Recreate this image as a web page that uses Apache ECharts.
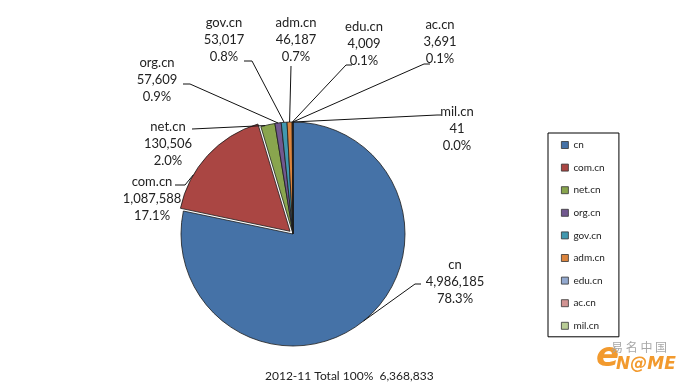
<!DOCTYPE html>
<html>
<head>
<meta charset="utf-8">
<script src="https://cdn.jsdelivr.net/npm/echarts@6/dist/echarts.min.js"></script>
<style>html,body{margin:0;padding:0;background:#fff;}#c{width:684px;height:390px;}</style>
</head>
<body>
<div id="c"></div>
<script>
const categories = ['cn', 'com.cn', 'net.cn', 'org.cn', 'gov.cn', 'adm.cn', 'edu.cn', 'ac.cn', 'mil.cn'];
const values = [4986185, 1087588, 130506, 57609, 53017, 46187, 4009, 3691, 41];
const colors = ['#4572A7', '#AA4643', '#89A54E', '#71588F', '#4198AF', '#DB843D', '#93A9CF', '#D19392', '#B9CD96'];
const period = '2012-11';
const exploded = 'com.cn';

// label placement (text block centre, leader-line anchor within slice, points near the text)
const labelPlace = {
  'cn':     { x: 455, y: 282, at: 0.5,  pts: [[415, 284], [421, 284]] },
  'com.cn': { x: 152, y: 199, at: 0.3,  pts: [[185, 185], [175, 185]] },
  'net.cn': { x: 168, y: 144, at: 0.3,  pts: [[192, 129]] },
  'org.cn': { x: 157, y: 80,  at: 0.5,  pts: [[190, 84], [183, 84]] },
  'gov.cn': { x: 224, y: 40,  at: 0.5,  pts: [[252, 61], [244, 61]] },
  'adm.cn': { x: 296, y: 40,  at: 0.5,  pts: [[291, 66]] },
  'edu.cn': { x: 364, y: 44,  at: 0.5,  pts: [[346, 65], [352, 65]] },
  'ac.cn':  { x: 440, y: 42,  at: 0.5,  pts: [[424, 64], [430, 64]] },
  'mil.cn': { x: 457, y: 129, at: 0.5,  pts: [[437, 115], [441, 115]] }
};

const total = values.reduce((a, b) => a + b, 0);
const fmt = v => v.toString().replace(/\B(?=(\d{3})+(?!\d))/g, ',');

const CX = 293, CY = 234, R = 112, OFFSET = 4;
const angleAt = (i, f) => (values.slice(0, i).reduce((a, b) => a + b, 0) + values[i] * f) / total * Math.PI * 2;
const ei = categories.indexOf(exploded);
const ex = CX + Math.sin(angleAt(ei, 0.5)) * OFFSET, ey = CY - Math.cos(angleAt(ei, 0.5)) * OFFSET;
// point on the slice's outer edge
const edgePoint = (i, f) => {
  const a = angleAt(i, f);
  const cx = i === ei ? ex : CX, cy = i === ei ? ey : CY;
  return [cx + Math.sin(a) * R, cy - Math.cos(a) * R];
};

const border = { borderColor: '#1c1c1c', borderWidth: 0.8 };
const hidden = { color: 'rgba(0,0,0,0)', borderWidth: 0 };

const labelCfg = {
  show: true,
  fontFamily: 'Lato', fontSize: 13, lineHeight: 17, color: '#222',
  align: 'center',
  formatter: p => p.name + '\n' + fmt(p.value) + '\n' + (p.value / total * 100).toFixed(1) + '%'
};
const layoutFn = function (params) {
  const lp = labelPlace[categories[params.dataIndex]];
  return { x: lp.x, y: lp.y, align: 'center', verticalAlign: 'middle', moveOverlap: false };
};

// leader lines from each slice's edge to its label
const leaderLines = categories.map((c, i) => ({
  type: 'polyline',
  silent: true,
  zlevel: 1,
  z: 100,
  shape: { points: [edgePoint(i, labelPlace[c].at)].concat(labelPlace[c].pts) },
  style: { stroke: '#111', lineWidth: 1, fill: null }
}));

const chart = echarts.init(document.getElementById('c'));
chart.setOption({
  animation: false,
  backgroundColor: '#fff',
  color: colors,
  title: {
    text: period + ' Total 100%  ' + fmt(total),
    left: 260, top: 365,
    textStyle: { fontFamily: 'Lato', fontSize: 12, fontWeight: 'normal', color: '#222' }
  },
  legend: {
    orient: 'vertical',
    left: 548, top: 133,
    padding: [7, 14, 6, 13],
    borderColor: '#000', borderWidth: 1,
    itemWidth: 7, itemHeight: 7, itemGap: 12.6,
    icon: 'rect',
    selectedMode: false,
    textStyle: { fontFamily: 'Lato', fontSize: 10, lineHeight: 10, color: '#222' },
    data: categories.map((c, i) => ({ name: c, itemStyle: { color: colors[i], borderColor: '#333', borderWidth: 0.8 } }))
  },
  graphic: leaderLines.concat([
    { type: 'text', left: 596, top: 340, style: { text: 'e', font: 'italic bold 34px "DejaVu Sans"', fill: '#F29A2E' } },
    { type: 'text', left: 611, top: 341, style: { text: '易 名 中 国', font: '12px "Noto Sans CJK SC"', fill: '#A8A8A8' } },
    { type: 'text', left: 616, top: 356, style: { text: 'N@ME', font: 'italic bold 17px "DejaVu Sans"', fill: '#F29A2E' } }
  ]),
  series: [{
    type: 'pie',
    name: 'main',
    center: [CX, CY],
    radius: R,
    startAngle: 90,
    clockwise: true,
    avoidLabelOverlap: false,
    selectedMode: false,
    emphasis: { disabled: true },
    itemStyle: border,
    label: labelCfg,
    labelLine: { show: false },
    labelLayout: layoutFn,
    data: categories.map((c, i) => c === exploded
      ? { name: c, value: values[i], itemStyle: hidden, label: { show: false } }
      : { name: c, value: values[i], itemStyle: { color: colors[i] } })
  }, {
    type: 'pie',
    name: 'explode',
    center: [ex, ey],
    radius: R,
    startAngle: 90,
    clockwise: true,
    avoidLabelOverlap: false,
    silent: true,
    emphasis: { disabled: true },
    itemStyle: border,
    label: labelCfg,
    labelLine: { show: false },
    labelLayout: layoutFn,
    data: categories.map((c, i) => c === exploded
      ? { name: c, value: values[i], itemStyle: { color: colors[i] } }
      : { name: c, value: values[i], itemStyle: hidden, label: { show: false } })
  }]
});
</script>
</body>
</html>
